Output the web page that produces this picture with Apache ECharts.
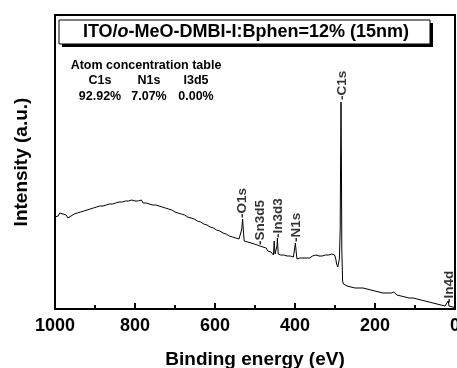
<!DOCTYPE html>
<html>
<head>
<meta charset="utf-8">
<script src="https://cdn.jsdelivr.net/npm/echarts@6/dist/echarts.min.js"></script>
<style>
  html, body { margin: 0; padding: 0; background: #fff; }
  #chart { width: 457px; height: 368px; }
</style>
</head>
<body>
<div id="chart"></div>
<script>
// [binding energy (eV), intensity (a.u.)]
var spectrum = [
  [1000, 92], [996, 94], [992, 93], [988, 96], [984, 94], [980, 95], [976, 93], [972, 94], [968, 91], [964, 90],
  [960, 93], [956, 92], [952, 95], [948, 94], [944, 96], [940, 95], [936, 97], [932, 95], [928, 98], [924, 96],
  [920, 99], [916, 97], [912, 100], [908, 98], [904, 101], [900, 99], [896, 102], [892, 100], [888, 103], [884, 101],
  [880, 103], [876, 102], [872, 104], [868, 102], [864, 105], [860, 103], [856, 105], [852, 104], [848, 106], [844, 104],
  [840, 107], [836, 105], [832, 107], [828, 106], [824, 108], [820, 106], [816, 108], [812, 106], [808, 109], [804, 107],
  [800, 108], [796, 106], [792, 108], [788, 107], [784, 109], [780, 106], [776, 108], [772, 106], [768, 107], [764, 105],
  [760, 107], [756, 104], [752, 106], [748, 104], [744, 105], [740, 103], [736, 104], [732, 102], [728, 103], [724, 101],
  [720, 102], [716, 100], [712, 101], [708, 99], [704, 100], [700, 97], [696, 98], [692, 96], [688, 97], [684, 95],
  [680, 96], [676, 94], [672, 94], [668, 92], [664, 93], [660, 91], [656, 92], [652, 90], [648, 90], [644, 88],
  [640, 89], [636, 87], [632, 87], [628, 85], [624, 86], [620, 84], [616, 84], [612, 82], [608, 83], [604, 81],
  [600, 81], [596, 79], [592, 80], [588, 78], [584, 78], [580, 76], [576, 77], [572, 75], [568, 75], [564, 73],
  [560, 74], [556, 72], [552, 73], [548, 71], [544, 72], [540, 70], [537, 69], [535, 72], [533, 80], [531, 90],
  [529, 78], [527, 68], [525, 67], [522, 66], [518, 67], [514, 65], [510, 66], [506, 64], [502, 65], [498, 63],
  [494, 64], [490, 62], [488, 63], [486, 65], [484, 61], [480, 62], [476, 60], [472, 61], [468, 58], [464, 59],
  [460, 57], [457, 56], [454, 54], [452, 68], [450, 55], [447, 54], [445, 63], [444, 71], [442, 55], [439, 53],
  [436, 54], [432, 52], [428, 54], [424, 52], [420, 53], [416, 51], [412, 53], [408, 51], [404, 52], [401, 52],
  [399, 66], [397, 57], [395, 50], [392, 52], [388, 51], [384, 53], [380, 51], [376, 52], [372, 51], [368, 53],
  [364, 51], [360, 52], [356, 53], [352, 52], [348, 54], [344, 52], [340, 53], [336, 54], [332, 53], [328, 55],
  [324, 54], [320, 56], [316, 54], [312, 56], [308, 55], [304, 56], [301, 54], [298, 50], [296, 45], [293, 42],
  [291, 41], [289, 50], [287, 80], [286, 150], [285, 207], [284, 150], [283, 60], [281, 28], [279, 25], [275, 24],
  [270, 23], [265, 23], [260, 22], [255, 23], [250, 21], [245, 22], [240, 21], [235, 20], [230, 21], [225, 19],
  [220, 20], [215, 19], [210, 19], [205, 18], [200, 18], [195, 18], [190, 17], [185, 17], [180, 16], [175, 17],
  [170, 16], [165, 15], [160, 16], [155, 15], [153, 17], [150, 15], [145, 14], [140, 14], [135, 13], [130, 13],
  [125, 12], [120, 12], [115, 11], [110, 11], [105, 11], [103, 13], [100, 10], [95, 10], [90, 9], [85, 9],
  [80, 8], [75, 8], [70, 7], [65, 7], [60, 6], [55, 6], [50, 5], [45, 5], [40, 4], [35, 4],
  [30, 3], [25, 3], [20, 4], [17, 8], [15, 3], [10, 2], [5, 2], [0, 1]
];

// peak annotations
var peakNames = ['-O1s', '-Sn3d5', '-In3d3', '-N1s', '-C1s', '-In4d'];
var peakEnergy = [531, 486, 441, 396, 283, 15];
var peakHeight = [91, 64, 71, 67, 209, 6];

var xTicks = [0, 200, 400, 600, 800, 1000];

// atom concentration table
var atoms = ['C1s', 'N1s', 'I3d5'];
var conc = ['92.92%', '7.07%', '0.00%'];

var chart = echarts.init(document.getElementById('chart'));

var peaks = peakNames.map(function (n, i) { return [peakEnergy[i], peakHeight[i], n]; });

var font = 'Liberation Sans, Arial, sans-serif';
var tblFont = 'bold 12.5px ' + font;

var graphics = [
  { type: 'rect', shape: { x: 62, y: 23, width: 371, height: 24 }, style: { fill: '#000' } },
  { type: 'rect', shape: { x: 59, y: 20, width: 371, height: 24 }, style: { fill: '#fff', stroke: '#000', lineWidth: 1 } },
  {
    type: 'text', x: 246, y: 32,
    style: {
      text: 'ITO/{i|o}-MeO-DMBI-I:Bphen=12% (15nm)',
      align: 'center', verticalAlign: 'middle',
      font: 'bold 18px ' + font, fill: '#000',
      rich: { i: { fontStyle: 'italic', fontWeight: 'bold', fontSize: 18, fontFamily: font } }
    }
  },
  { type: 'text', x: 146, y: 66, style: { text: 'Atom concentration table', align: 'center', verticalAlign: 'middle', font: tblFont, fill: '#000' } }
];
var colX = [100, 149, 196];
atoms.forEach(function (a, i) {
  graphics.push({ type: 'text', x: colX[i], y: 81, style: { text: a, align: 'center', verticalAlign: 'middle', font: tblFont, fill: '#000' } });
  graphics.push({ type: 'text', x: colX[i], y: 97, style: { text: conc[i], align: 'center', verticalAlign: 'middle', font: tblFont, fill: '#000' } });
});

var option = {
  animation: false,
  grid: {
    left: 55, right: 2, top: 15, bottom: 59,
    outerBoundsMode: 'none',
    show: true, borderColor: '#000', borderWidth: 2
  },
  xAxis: {
    type: 'value',
    min: 0, max: 1000, interval: 200,
    inverse: true,
    name: 'Binding energy (eV)',
    nameLocation: 'middle',
    nameGap: 41,
    nameTextStyle: { fontFamily: font, fontWeight: 'bold', fontSize: 19, color: '#000' },
    axisLine: { lineStyle: { color: '#000', width: 2 } },
    axisTick: { inside: true, length: 6, lineStyle: { color: '#000', width: 2 } },
    minorTick: { show: true, splitNumber: 2, length: 4, lineStyle: { color: '#000', width: 2 } },
    axisLabel: {
      margin: 8, fontFamily: font, fontWeight: 'bold', fontSize: 18, color: '#000',
      formatter: function (v) { return xTicks.indexOf(v) >= 0 ? String(v) : ''; }
    },
    splitLine: { show: false }
  },
  yAxis: {
    type: 'value',
    min: 0, max: 294,
    name: 'Intensity (a.u.)',
    nameLocation: 'middle',
    nameGap: 24,
    nameTextStyle: { fontFamily: font, fontWeight: 'bold', fontSize: 19, color: '#000' },
    axisLine: { show: true, lineStyle: { color: '#000', width: 2 } },
    axisTick: { show: false },
    axisLabel: { show: false },
    splitLine: { show: false }
  },
  series: [
    {
      type: 'line',
      data: spectrum,
      showSymbol: false,
      lineStyle: { color: '#000', width: 1 },
      z: 3
    },
    {
      type: 'scatter',
      data: peaks,
      symbolSize: 0,
      label: {
        show: true,
        position: [0, 0],
        rotate: 90,
        align: 'left',
        verticalAlign: 'middle',
        formatter: function (p) { return p.value[2]; },
        fontFamily: font, fontWeight: 'bold', fontSize: 13.5, color: '#000'
      },
      z: 4
    }
  ],
  graphic: graphics
};

chart.setOption(option);
</script>
</body>
</html>
